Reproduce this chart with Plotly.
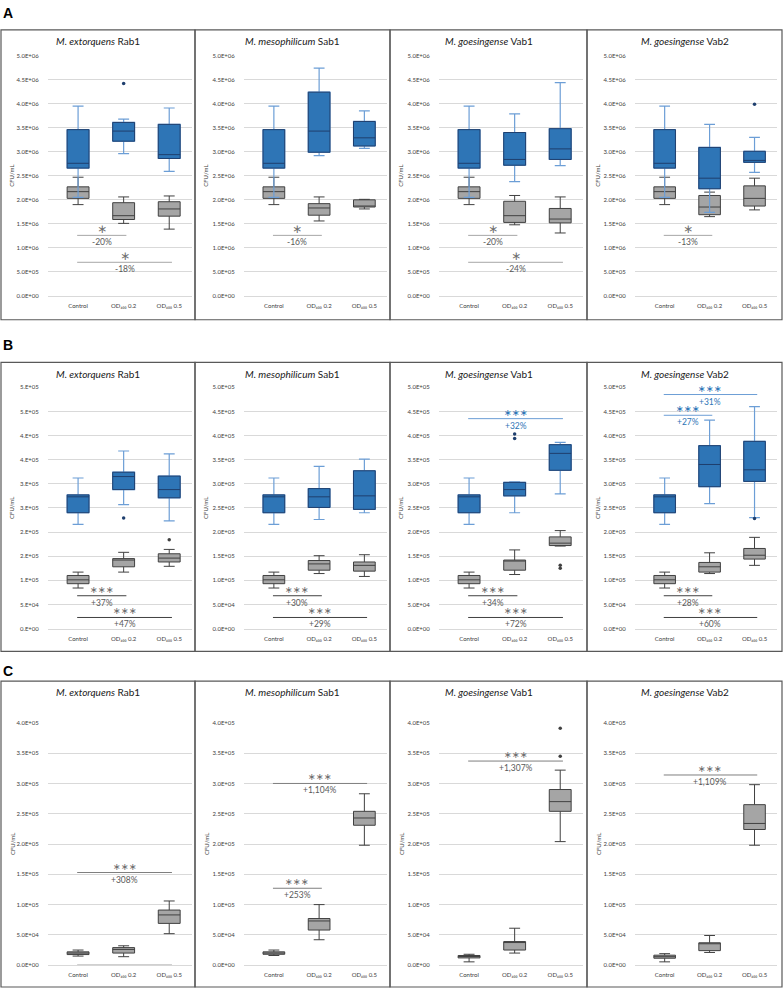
import plotly.graph_objects as go

# ---------------- data ----------------
CATEGORIES = ["Control", "OD₆₀₀ 0.2", "OD₆₀₀ 0.5"]
STRAINS = ["<i>M. extorquens</i> Rab1", "<i>M. mesophilicum</i> Sab1",
           "<i>M. goesingense</i> Vab1", "<i>M. goesingense</i> Vab2"]
PANEL_LETTERS = ["A", "B", "C"]
Y_TITLE = "CFU/mL"

# boxes: [lower whisker, Q1, median, Q3, upper whisker] for Control, OD 0.2, OD 0.5
A_UNIT = 1e6
A_BLUE = [
    [[2.05, 2.66, 2.76, 3.46, 3.95], [2.96, 3.22, 3.43, 3.61, 3.68], [2.59, 2.86, 2.94, 3.57, 3.91]],
    [[2.05, 2.66, 2.76, 3.46, 3.95], [2.92, 2.99, 3.43, 4.24, 4.74], [3.07, 3.12, 3.29, 3.63, 3.85]],
    [[2.05, 2.66, 2.76, 3.46, 3.95], [2.38, 2.72, 2.84, 3.40, 3.79], [2.71, 2.84, 3.06, 3.48, 4.44]],
    [[2.05, 2.66, 2.76, 3.46, 3.95], [1.74, 2.23, 2.45, 3.09, 3.57], [2.57, 2.78, 2.82, 3.01, 3.30]],
]
A_GRAY = [
    [[1.90, 2.03, 2.17, 2.27, 2.47], [1.51, 1.59, 1.67, 1.94, 2.06], [1.39, 1.66, 1.81, 1.96, 2.08]],
    [[1.90, 2.03, 2.17, 2.27, 2.47], [1.56, 1.68, 1.83, 1.92, 2.06], [1.81, 1.85, 1.87, 2.00, 2.01]],
    [[1.90, 2.03, 2.17, 2.27, 2.47], [1.48, 1.53, 1.67, 1.97, 2.09], [1.31, 1.52, 1.60, 1.82, 2.06]],
    [[1.90, 2.03, 2.17, 2.27, 2.47], [1.65, 1.69, 1.85, 2.09, 2.16], [1.79, 1.87, 2.03, 2.29, 2.45]],
]
A_BLUE_OUTLIERS = [(0, 1, 4.42), (3, 2, 3.99)]
A_GRAY_OUTLIERS = []
# (strain, from category, to category, y, stars, label, series)
A_BRACKETS = [
    (0, 0, 1, 1.26, "*", "-20%", "gray"), (0, 0, 2, 0.70, "*", "-18%", "gray"),
    (1, 0, 1, 1.26, "*", "-16%", "gray"),
    (2, 0, 1, 1.26, "*", "-20%", "gray"), (2, 0, 2, 0.70, "*", "-24%", "gray"),
    (3, 0, 1, 1.26, "*", "-13%", "gray"),
]
A_TICKS = [0, 0.5, 1.0, 1.5, 2.0, 2.5, 3.0, 3.5, 4.0, 4.5, 5.0]

B_UNIT = 1e5
B_BLUE = [
    [[2.16, 2.40, 2.73, 2.77, 3.12], [2.57, 2.88, 3.15, 3.24, 3.68], [2.23, 2.71, 2.88, 3.16, 3.62]],
    [[2.16, 2.40, 2.73, 2.77, 3.12], [2.26, 2.51, 2.73, 2.90, 3.36], [2.40, 2.47, 2.75, 3.27, 3.51]],
    [[2.16, 2.40, 2.73, 2.77, 3.12], [2.40, 2.75, 2.88, 3.03, 3.04], [2.79, 3.28, 3.63, 3.81, 3.86]],
    [[2.16, 2.40, 2.73, 2.77, 3.12], [2.59, 2.94, 3.40, 3.79, 4.32], [2.30, 3.05, 3.29, 3.88, 4.60]],
]
B_GRAY = [
    [[0.84, 0.93, 1.01, 1.10, 1.17], [1.17, 1.28, 1.42, 1.45, 1.58], [1.29, 1.38, 1.46, 1.55, 1.64]],
    [[0.84, 0.93, 1.01, 1.10, 1.17], [1.14, 1.21, 1.34, 1.41, 1.51], [1.08, 1.19, 1.31, 1.38, 1.53]],
    [[0.84, 0.93, 1.01, 1.10, 1.17], [1.12, 1.21, 1.41, 1.42, 1.63], [1.71, 1.72, 1.77, 1.90, 2.03]],
    [[0.84, 0.93, 1.01, 1.10, 1.17], [1.14, 1.17, 1.28, 1.37, 1.57], [1.31, 1.44, 1.52, 1.66, 1.89]],
]
B_BLUE_OUTLIERS = [(0, 1, 2.29), (2, 1, 4.03), (2, 1, 3.94), (3, 2, 2.28)]
B_GRAY_OUTLIERS = [(0, 2, 1.84), (2, 2, 1.31), (2, 2, 1.25)]
B_BRACKETS = [
    (0, 0, 1, 0.68, "***", "+37%", "gray"), (0, 0, 2, 0.23, "***", "+47%", "gray"),
    (1, 0, 1, 0.68, "***", "+30%", "gray"), (1, 0, 2, 0.23, "***", "+29%", "gray"),
    (2, 0, 1, 0.68, "***", "+34%", "gray"), (2, 0, 2, 0.23, "***", "+72%", "gray"),
    (2, 0, 2, 4.35, "***", "+32%", "blue"),
    (3, 0, 1, 0.68, "***", "+28%", "gray"), (3, 0, 2, 0.23, "***", "+60%", "gray"),
    (3, 0, 1, 4.42, "***", "+27%", "blue"), (3, 0, 2, 4.85, "***", "+31%", "blue"),
]
B_TICKS = [0, 0.5, 1.0, 1.5, 2.0, 2.5, 3.0, 3.5, 4.0, 4.5, 5.0]
B1_TICK_LABELS = ["0.E+00", "5.E+04", "1.E+05", "2.E+05", "2.E+05", "3.E+05",
                  "3.E+05", "4.E+05", "4.E+05", "5.E+05", "5.E+05"]

C_UNIT = 1e4
C_BLUE = [None, None, None, None]
C_GRAY = [
    [[1.5, 1.75, 2.0, 2.2, 2.5], [1.4, 2.0, 2.6, 2.9, 3.2], [5.2, 6.9, 8.3, 9.1, 10.6]],
    [[1.6, 1.8, 2.0, 2.2, 2.5], [4.2, 5.8, 7.3, 7.7, 10.0], [19.8, 23.1, 24.3, 25.4, 28.3]],
    [[0.55, 1.2, 1.5, 1.6, 1.8], [2.0, 2.5, 3.8, 3.9, 6.1], [20.4, 25.4, 27.0, 29.0, 32.2]],
    [[0.55, 1.15, 1.4, 1.65, 1.9], [2.1, 2.4, 3.6, 3.7, 4.9], [19.8, 22.4, 23.4, 26.5, 29.8]],
]
C_BLUE_OUTLIERS = []
C_GRAY_OUTLIERS = [(2, 2, 39.1), (2, 2, 34.5)]
C_BRACKETS = [
    (0, 0, 2, 15.3, "***", "+308%", "gray"), (0, 0, 2, 0.0, "", "", "gray"),
    (1, 0, 2, 30.0, "***", "+1,104%", "gray"), (1, 0, 1, 12.7, "***", "+253%", "gray"),
    (2, 0, 2, 33.7, "***", "+1,307%", "gray"),
    (3, 0, 2, 31.4, "***", "+1,109%", "gray"),
]
C_TICKS = [0, 5, 10, 15, 20, 25, 30, 35, 40]

# ---------------- layout geometry / styles ----------------
W, H = 784, 993
ROW_FRAME = [(26, 318), (361, 652), (682, 990)]
ROW_PLOT = [(52, 294), (386, 629), (724, 968)]
ROW_TITLE = [37, 373, 693]
ROW_LETTER = [9, 343, 672]
COL_FRAME = [(1, 195), (195, 390), (390, 587), (587, 782)]
COL_PLOT = [(48, 192), (244, 387), (439, 583), (635, 777)]
XRANGE = [-0.66, 2.5]
BOX_W = 0.48
FONT = "Lato, 'Open Sans', sans-serif"
STAR_FONT = "'DejaVu Sans', sans-serif"
BLUE_FILL = "#2E75B6"
BLUE_EDGE = "#1F3F6E"
BLUE_WHISK = "#6C9ED6"
BLUE_TEXT = "#2E75B6"
GRAY_FILL = "#A5A5A5"
GRAY_EDGE = "#404040"
ROW_BRACKET_COLOR = ["#A6A6A6", "#404040", "#7F7F7F"]


def px(x):
    return x / W


def py(y):
    return 1 - y / H


rows = [
    dict(unit=A_UNIT, blue=A_BLUE, gray=A_GRAY, bo=A_BLUE_OUTLIERS, go_=A_GRAY_OUTLIERS,
         br=A_BRACKETS, ticks=A_TICKS, ymax=A_TICKS[-1]),
    dict(unit=B_UNIT, blue=B_BLUE, gray=B_GRAY, bo=B_BLUE_OUTLIERS, go_=B_GRAY_OUTLIERS,
         br=B_BRACKETS, ticks=B_TICKS, ymax=B_TICKS[-1]),
    dict(unit=C_UNIT, blue=C_BLUE, gray=C_GRAY, bo=C_BLUE_OUTLIERS, go_=C_GRAY_OUTLIERS,
         br=C_BRACKETS, ticks=C_TICKS, ymax=C_TICKS[-1]),
]

fig = go.Figure()
layout = dict(width=W, height=H, margin=dict(l=0, r=0, t=0, b=0),
              paper_bgcolor="white", plot_bgcolor="white", showlegend=False,
              boxmode="overlay", font=dict(family=FONT, color="#595959"))
shapes = []
annotations = []
xs = [0, 1, 2]

for r, row in enumerate(rows):
    u = row["unit"]
    annotations.append(dict(xref="paper", yref="paper", x=px(8), y=py(ROW_LETTER[r]),
                            text="<b>%s</b>" % PANEL_LETTERS[r], showarrow=False,
                            font=dict(size=14, color="black", family="Arial"),
                            xanchor="center", yanchor="middle"))
    for c in range(4):
        n = r * 4 + c + 1
        xa = "x" if n == 1 else "x%d" % n
        ya = "y" if n == 1 else "y%d" % n
        tickvals = [t * u for t in row["ticks"]]
        if r == 1 and c == 0:
            ticktext = B1_TICK_LABELS
        else:
            ticktext = ["%.1E" % v for v in tickvals]
        layout["xaxis%d" % n] = dict(
            domain=[px(COL_PLOT[c][0]), px(COL_PLOT[c][1])], anchor=ya,
            range=XRANGE, tickvals=xs, ticktext=CATEGORIES, showgrid=False,
            zeroline=False, showline=True, linecolor="#D9D9D9", linewidth=1,
            ticks="outside", ticklen=4, tickcolor="rgba(0,0,0,0)",
            tickfont=dict(size=6, color="#404040"), fixedrange=True)
        layout["yaxis%d" % n] = dict(
            domain=[py(ROW_PLOT[r][1]), py(ROW_PLOT[r][0])], anchor=xa,
            range=[0, row["ymax"] * u], tickvals=tickvals, ticktext=ticktext,
            showgrid=True, gridcolor="#D9D9D9", gridwidth=1, zeroline=False,
            showline=False, ticks="outside", ticklen=7, tickcolor="rgba(0,0,0,0)",
            tickfont=dict(size=6, color="#404040"), fixedrange=True)

        # frame
        shapes.append(dict(type="rect", xref="paper", yref="paper",
                           x0=px(COL_FRAME[c][0]), x1=px(COL_FRAME[c][1]),
                           y0=py(ROW_FRAME[r][1]), y1=py(ROW_FRAME[r][0]),
                           line=dict(color="#595959", width=1.2)))
        # title
        annotations.append(dict(xref="paper", yref="paper",
                                x=px((COL_FRAME[c][0] + COL_FRAME[c][1]) / 2),
                                y=py(ROW_TITLE[r]), text=STRAINS[c], showarrow=False,
                                font=dict(size=10, color="#1A1A1A"),
                                xanchor="center", yanchor="middle"))
        # y title
        annotations.append(dict(xref="paper", yref="paper", x=px(COL_FRAME[c][0] + 11),
                                y=py((ROW_PLOT[r][0] + ROW_PLOT[r][1]) / 2),
                                text=Y_TITLE, showarrow=False, textangle=-90,
                                font=dict(size=6, color="#404040"),
                                xanchor="center", yanchor="middle"))

        # gray boxes
        g = row["gray"][c]
        fig.add_trace(go.Box(
            x=xs, lowerfence=[s[0] * u for s in g], q1=[s[1] * u for s in g],
            median=[s[2] * u for s in g], q3=[s[3] * u for s in g],
            upperfence=[s[4] * u for s in g], width=BOX_W, whiskerwidth=0.5,
            fillcolor=GRAY_FILL, line=dict(color=GRAY_EDGE, width=1),
            boxpoints=False, hoverinfo="skip", xaxis=xa, yaxis=ya))
        go_pts = [p for p in row["go_"] if p[0] == c]
        if go_pts:
            fig.add_trace(go.Scatter(x=[p[1] for p in go_pts], y=[p[2] * u for p in go_pts],
                                     mode="markers", marker=dict(size=3.5, color="#404040"),
                                     hoverinfo="skip", xaxis=xa, yaxis=ya))
        # blue boxes
        b = row["blue"][c]
        if b is not None:
            fig.add_trace(go.Box(
                x=xs, lowerfence=[s[0] * u for s in b], q1=[s[1] * u for s in b],
                median=[s[2] * u for s in b], q3=[s[3] * u for s in b],
                upperfence=[s[4] * u for s in b], width=BOX_W, whiskerwidth=0.5,
                fillcolor=BLUE_FILL, line=dict(color=BLUE_WHISK, width=1.2),
                boxpoints=False, hoverinfo="skip", xaxis=xa, yaxis=ya))
            fig.add_trace(go.Box(
                x=xs, lowerfence=[s[1] * u for s in b], q1=[s[1] * u for s in b],
                median=[s[2] * u for s in b], q3=[s[3] * u for s in b],
                upperfence=[s[3] * u for s in b], width=BOX_W, whiskerwidth=0,
                fillcolor=BLUE_FILL, line=dict(color=BLUE_EDGE, width=1),
                boxpoints=False, hoverinfo="skip", xaxis=xa, yaxis=ya))
            bo_pts = [p for p in row["bo"] if p[0] == c]
            if bo_pts:
                fig.add_trace(go.Scatter(x=[p[1] for p in bo_pts], y=[p[2] * u for p in bo_pts],
                                         mode="markers", marker=dict(size=3.5, color="#1F3F6E"),
                                         hoverinfo="skip", xaxis=xa, yaxis=ya))

        # significance brackets
        for (s, i0, i1, yv, stars, label, series) in row["br"]:
            if s != c:
                continue
            lc = "#6C9ED6" if series == "blue" else ROW_BRACKET_COLOR[r]
            tc = BLUE_TEXT if series == "blue" else "#595959"
            sc = BLUE_TEXT if series == "blue" else "#707070"
            lw = 1
            if label == "":
                lc, lw = "#D0D0D0", 2.5
            x0, x1 = i0 - 0.02, i1 + 0.06
            shapes.append(dict(type="line", xref=xa, yref=ya, x0=x0, x1=x1,
                               y0=yv * u, y1=yv * u, line=dict(color=lc, width=lw)))
            if stars:
                star_txt = "".join("\u2217" for _ in stars)
                annotations.append(dict(xref=xa, yref=ya, x=(x0 + x1) / 2, y=yv * u,
                                        text=star_txt, showarrow=False,
                                        yanchor="bottom", yshift=-2 if r == 0 else 0,
                                        borderpad=0,
                                        font=dict(size=12 if r == 0 else 9.5, color=sc,
                                                  family=STAR_FONT),
                                        xanchor="center"))
            if label:
                annotations.append(dict(xref=xa, yref=ya, x=(x0 + x1) / 2, y=yv * u,
                                        text=label, showarrow=False, yanchor="top",
                                        yshift=-1, borderpad=0,
                                        font=dict(size=8.5, color=tc),
                                        xanchor="center"))

layout["shapes"] = shapes
layout["annotations"] = annotations
fig.update_layout(**layout)
fig.write_html("out.html", config={"displayModeBar": False},
               post_script="document.body.style.margin='0';document.body.style.overflow='hidden';")
